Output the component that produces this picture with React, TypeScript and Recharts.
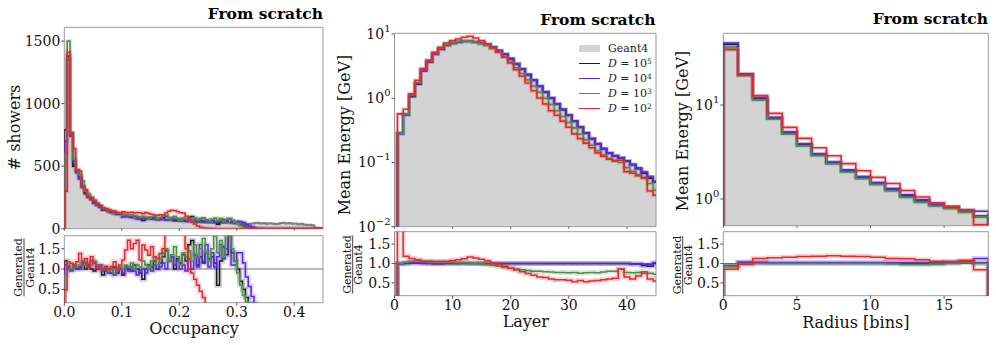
import React from "react";
import {
  ComposedChart,
  Area,
  Line,
  XAxis,
  YAxis,
  ReferenceArea,
  ReferenceLine,
  Legend,
} from "recharts";

const FONT = "DejaVu Serif";
const G4_FILL = "#d3d3d3";
const FRAME = "#9a9a9a";

// series order = draw order (black, blue, green, red on top)
const SERIES = [
  { key: "d5", exp: "5", color: "#1c1c1c" },
  { key: "d4", exp: "4", color: "#5a23ee" },
  { key: "d3", exp: "3", color: "#4e8f4c" },
  { key: "d2", exp: "2", color: "#e8262f" },
];

// ---------- Occupancy (bins of 0.005 from 0) ----------
const OCC_G4 = [
  700, 1370, 770, 520, 450, 400, 330, 290, 250, 230,
  210, 190, 178, 165, 158, 148, 140, 132, 125, 118,
  108, 104, 100, 96, 92, 90, 88, 85, 84, 82,
  80, 76, 74, 72, 72, 70, 68, 66, 66, 64,
  62, 60, 60, 58, 56, 55, 54, 52, 50, 50,
  48, 50, 47, 46, 48, 45, 46, 44, 45, 42,
  44, 42, 45, 40, 38, 42, 45, 48, 42, 46,
  40, 44, 42, 38, 40, 45, 48, 42, 46, 40,
  42, 36, 40, 34, 30, 32, 28, 8, 5, 4,
];
const OCC_D5 = [
  790, 1380, 760, 500, 470, 410, 340, 280, 255, 240,
  205, 192, 175, 150, 150, 148, 130, 135, 115, 118,
  95, 108, 100, 92, 100, 90, 80, 66, 84, 90,
  84, 90, 74, 82, 92, 100, 80, 86, 66, 80,
  72, 82, 72, 92, 98, 72, 60, 68, 58, 70,
  60, 65, 54, 35, 58, 70, 62, 80, 63, 50,
  44, 30, 22, 12, 6, 0, 0, 0, 0, 0,
  0, 0, 0, 0, 0, 0, 0, 0, 0, 0,
  0, 0, 0, 0, 0, 0, 0, 0, 0, 0,
];
const OCC_D4 = [
  700, 1350, 740, 540, 450, 400, 340, 310, 260, 240,
  215, 190, 180, 158, 155, 135, 138, 122, 120, 118,
  100, 104, 95, 100, 88, 78, 84, 85, 76, 82,
  76, 84, 74, 76, 82, 70, 80, 86, 72, 78,
  62, 66, 58, 72, 56, 74, 58, 82, 62, 58,
  52, 70, 52, 60, 77, 56, 69, 78, 50, 50,
  60, 58, 50, 32, 22, 14, 6, 2, 1, 0,
  0, 0, 0, 0, 0, 0, 0, 0, 0, 0,
  0, 0, 0, 0, 0, 0, 0, 0, 0, 0,
];
const OCC_D3 = [
  600, 1500, 770, 560, 470, 430, 380, 300, 280, 250,
  230, 200, 185, 165, 160, 145, 140, 120, 125, 124,
  108, 114, 105, 110, 92, 100, 92, 100, 92, 82,
  96, 98, 82, 90, 100, 105, 82, 90, 100, 82,
  68, 84, 78, 84, 68, 88, 70, 78, 88, 70,
  58, 75, 85, 64, 82, 60, 74, 80, 68, 52,
  40, 26, 14, 6, 2, 0, 0, 0, 0, 0,
  0, 0, 0, 0, 0, 0, 0, 0, 0, 0,
  0, 0, 0, 0, 0, 0, 0, 0, 0, 0,
];
const OCC_D2 = [
  300, 1410, 760, 640, 470, 460, 330, 310, 260, 250,
  225, 205, 185, 170, 160, 150, 142, 140, 130, 128,
  135, 130, 128, 132, 125, 130, 128, 120, 130, 122,
  115, 110, 108, 112, 110, 125, 140, 148, 145, 135,
  128, 125, 100, 75, 55, 38, 22, 12, 6, 3,
  2, 1, 1, 0, 0, 0, 0, 0, 0, 0,
  0, 0, 0, 0, 0, 0, 0, 0, 0, 0,
  0, 0, 0, 0, 0, 0, 0, 0, 0, 0,
  0, 0, 0, 0, 0, 0, 0, 0, 0, 0,
];
const OCC_R_D5 = [
  1.2, 1.05, 1.0, 1.1, 1.0, 1.05, 1.15, 1.0, 1.1, 1.0,
  0.95, 1.0, 1.05, 0.85, 0.95, 1.0, 0.9, 1.05, 0.9, 1.0,
  0.85, 1.05, 1.0, 0.95, 1.1, 1.0, 0.9, 0.75, 1.0, 1.1,
  1.05, 1.2, 1.0, 1.15, 1.3, 1.45, 1.2, 1.3, 1.0, 1.25,
  1.15, 1.35, 1.2, 1.6, 1.7, 1.35, 1.1, 1.3, 1.15, 1.4,
  1.25, 1.3, 1.15, 0.6, 1.2, 1.55, 1.35, 1.85, 1.4, 1.2,
  1.0, 0.7, 0.5, 0.3, 0.15, 0, 0, 0, 0, 0,
  0, 0, 0, 0, 0, 0, 0, 0, 0, 0,
  0, 0, 0, 0, 0, 0, 0, 0, 0, 0,
];
const OCC_R_D4 = [
  1.1, 1.0, 0.95, 1.05, 1.0, 1.0, 1.1, 1.15, 1.05, 1.2,
  1.15, 1.0, 1.1, 0.95, 1.0, 0.9, 1.0, 0.85, 0.95, 1.0,
  0.9, 1.0, 0.95, 1.05, 0.95, 0.85, 0.95, 1.0, 0.9, 1.0,
  0.95, 1.1, 1.0, 1.05, 1.15, 1.0, 1.2, 1.3, 1.1, 1.2,
  1.0, 1.1, 0.95, 1.25, 1.0, 1.35, 1.05, 1.6, 1.2, 1.6,
  1.05, 1.4, 1.05, 1.3, 1.6, 1.25, 1.5, 1.8, 1.1, 1.1,
  1.4, 1.4, 1.15, 0.8, 0.57, 0.32, 0.15, 0, 0, 0,
  0, 0, 0, 0, 0, 0, 0, 0, 0, 0,
  0, 0, 0, 0, 0, 0, 0, 0, 0, 0,
];
const OCC_R_D3 = [
  0.85, 1.1, 1.0, 1.1, 1.05, 1.1, 1.2, 1.1, 1.15, 1.1,
  1.2, 1.1, 1.05, 1.0, 1.05, 0.95, 1.0, 0.9, 1.0, 1.05,
  1.0, 1.1, 1.05, 1.15, 1.0, 1.1, 1.05, 1.2, 1.1, 1.0,
  1.2, 1.3, 1.1, 1.25, 1.4, 1.5, 1.2, 1.35, 1.55, 1.3,
  1.1, 1.4, 1.3, 1.45, 1.2, 1.6, 1.3, 1.5, 1.75, 1.4,
  1.2, 1.5, 1.8, 1.4, 1.7, 1.3, 1.9, 1.8, 1.5, 1.2,
  0.9, 0.6, 0.35, 0.2, 0, 0, 0, 0, 0, 0,
  0, 0, 0, 0, 0, 0, 0, 0, 0, 0,
  0, 0, 0, 0, 0, 0, 0, 0, 0, 0,
];
const OCC_R_D2 = [
  0.48, 1.18, 1.14, 1.1, 1.18, 1.38, 1.18, 1.26, 1.06, 1.3,
  1.14, 1.06, 1.02, 1.0, 1.07, 1.0, 1.06, 1.18, 1.02, 1.1,
  1.22, 1.47, 1.71, 1.5, 1.63, 1.71, 1.22, 1.59, 1.47, 1.34,
  1.55, 1.3, 1.26, 1.38, 1.5, 2.0, 2.0, 2.0, 2.0, 2.0,
  2.0, 2.0, 1.5, 1.0, 0.9, 0.75, 0.6, 0.45, 0.3, 0.1,
  0, 0, 0, 0, 0, 0, 0, 0, 0, 0,
  0, 0, 0, 0, 0, 0, 0, 0, 0, 0,
  0, 0, 0, 0, 0, 0, 0, 0, 0, 0,
  0, 0, 0, 0, 0, 0, 0, 0, 0, 0,
];

// ---------- Layer (unit bins starting at 0.5) ----------
const LAYER_G4 = [
  0.286, 0.556, 1.07, 1.67, 2.69, 3.7, 4.89, 5.85, 6.67, 7.2,
  7.5, 7.7, 7.7, 7.5, 7.17, 6.82, 6.2, 5.5, 4.83, 4.13,
  3.45, 2.86, 2.33, 1.9, 1.54, 1.25, 1.01, 0.815, 0.665, 0.544,
  0.44, 0.354, 0.288, 0.235, 0.195, 0.164, 0.141, 0.127, 0.118, 0.105,
  0.093, 0.081, 0.072, 0.061, 0.05,
];
const LAYER_D5 = [
  0.286, 0.556, 1.07, 1.67, 2.69, 3.7, 4.89, 5.85, 6.67, 7.2,
  7.5, 7.7, 7.7, 7.5, 7.17, 6.82, 6.2, 5.5, 4.83, 4.13,
  3.45, 2.86, 2.33, 1.9, 1.54, 1.25, 1.01, 0.815, 0.665, 0.544,
  0.44, 0.354, 0.288, 0.235, 0.195, 0.164, 0.141, 0.127, 0.118, 0.105,
  0.093, 0.081, 0.068, 0.057, 0.05,
];
const LAYER_D4 = [
  0.28, 0.56, 1.09, 1.7, 2.72, 3.7, 4.85, 5.8, 6.67, 7.2,
  7.5, 7.75, 7.7, 7.5, 7.17, 6.82, 6.2, 5.5, 4.83, 4.13,
  3.45, 2.86, 2.33, 1.9, 1.54, 1.25, 1.01, 0.815, 0.665, 0.544,
  0.44, 0.354, 0.288, 0.235, 0.195, 0.164, 0.141, 0.127, 0.118, 0.105,
  0.092, 0.08, 0.07, 0.059, 0.051,
];
const LAYER_D3 = [
  0.286, 0.57, 1.12, 1.76, 2.82, 3.85, 5.05, 6.0, 6.85, 7.35,
  7.6, 7.8, 7.75, 7.5, 7.1, 6.65, 5.95, 5.2, 4.4, 3.65,
  2.98, 2.42, 1.93, 1.55, 1.24, 1.0, 0.8, 0.64, 0.52, 0.42,
  0.345, 0.275, 0.225, 0.185, 0.152, 0.13, 0.115, 0.104, 0.1, 0.083,
  0.073, 0.064, 0.057, 0.047, 0.037,
];
const LAYER_D2 = [
  0.57, 0.675, 1.17, 1.9, 2.89, 3.9, 5.2, 6.2, 7.24, 7.87,
  8.36, 8.9, 9.2, 8.67, 7.87, 7.0, 6.06, 5.25, 4.39, 3.54,
  2.79, 2.2, 1.73, 1.31, 1.01, 0.815, 0.64, 0.544, 0.44, 0.354,
  0.279, 0.235, 0.2, 0.169, 0.141, 0.125, 0.112, 0.108, 0.108, 0.072,
  0.068, 0.062, 0.058, 0.036, 0.031,
];
const LAYER_R_D5 = [
  1.0, 1.0, 1.01, 1.01, 1.0, 1.0, 1.0, 1.0, 1.0, 1.0,
  1.0, 1.0, 1.0, 1.0, 1.0, 1.0, 1.0, 1.0, 1.0, 1.0,
  1.0, 1.0, 1.0, 1.0, 1.0, 1.0, 1.0, 1.0, 1.0, 1.0,
  1.0, 1.0, 1.0, 1.0, 1.0, 1.0, 1.0, 1.0, 1.0, 1.0,
  0.99, 0.99, 0.95, 0.93, 1.0,
];
const LAYER_R_D4 = [
  0.98, 1.01, 1.02, 1.02, 1.01, 1.0, 0.99, 0.99, 1.0, 1.0,
  1.0, 1.01, 1.0, 1.0, 1.0, 1.0, 1.0, 1.0, 1.0, 1.0,
  1.0, 1.0, 1.0, 1.0, 1.0, 1.0, 1.0, 1.0, 1.0, 1.0,
  1.0, 1.0, 1.0, 1.0, 1.0, 1.0, 1.0, 1.0, 1.0, 1.0,
  0.99, 0.99, 0.97, 0.97, 1.02,
];
const LAYER_R_D3 = [
  1.0, 1.03, 1.06, 1.07, 1.06, 1.06, 1.05, 1.05, 1.04, 1.03,
  1.02, 1.02, 1.01, 1.0, 0.99, 0.97, 0.95, 0.93, 0.9, 0.88,
  0.86, 0.84, 0.82, 0.8, 0.8, 0.79, 0.78, 0.77, 0.77, 0.76,
  0.77, 0.75, 0.76, 0.77, 0.76, 0.78, 0.8, 0.8, 0.86, 0.77,
  0.76, 0.77, 0.79, 0.75, 0.72,
];
const LAYER_R_D2 = [
  2.0, 1.19, 1.13, 1.1, 1.06, 1.06, 1.05, 1.05, 1.06, 1.08,
  1.1, 1.12, 1.17, 1.14, 1.11, 1.07, 1.0, 0.97, 0.93, 0.88,
  0.83, 0.79, 0.74, 0.7, 0.65, 0.64, 0.6, 0.58, 0.58, 0.57,
  0.53, 0.56, 0.53, 0.55, 0.56, 0.58, 0.6, 0.62, 0.85, 0.65,
  0.6, 0.68, 0.75, 0.6, 0.55,
];

// ---------- Radius (unit bins from 0) ----------
const RAD_G4 = [42, 20.8, 11.4, 7.1, 4.91, 3.69, 2.91, 2.38, 1.95, 1.66, 1.44, 1.24, 1.07, 0.94, 0.86, 0.8, 0.73, 0.645];
const RAD_D5 = [44.5, 21.3, 11.8, 7.3, 5.1, 3.82, 3.0, 2.45, 2.0, 1.7, 1.47, 1.27, 1.09, 0.96, 0.87, 0.82, 0.76, 0.66];
const RAD_D4 = [45.7, 21.5, 12.0, 7.39, 5.16, 3.87, 3.03, 2.48, 2.04, 1.73, 1.5, 1.29, 1.11, 0.98, 0.88, 0.82, 0.75, 0.74];
const RAD_D3 = [40.5, 20.6, 11.3, 7.05, 4.9, 3.68, 2.9, 2.37, 1.94, 1.65, 1.43, 1.22, 1.04, 0.92, 0.84, 0.79, 0.72, 0.645];
const RAD_D2 = [38.7, 20.8, 12.6, 8.15, 5.78, 4.42, 3.51, 2.89, 2.38, 2.0, 1.7, 1.46, 1.23, 1.05, 0.91, 0.834, 0.77, 0.533];
const RAD_R_D5 = [0.93, 1.02, 1.01, 1.01, 1.01, 1.01, 1.01, 1.01, 1.01, 1.01, 1.01, 1.01, 1.01, 1.01, 1.01, 1.03, 1.05, 1.01];
const RAD_R_D4 = [0.95, 1.04, 1.03, 1.02, 1.02, 1.02, 1.02, 1.02, 1.02, 1.02, 1.02, 1.02, 1.02, 1.02, 1.0, 1.02, 1.03, 1.13];
const RAD_R_D3 = [0.92, 1.0, 1.0, 1.0, 1.0, 1.0, 1.0, 1.0, 1.0, 1.0, 1.0, 0.99, 0.97, 0.97, 0.98, 1.0, 1.03, 1.0];
const RAD_R_D2 = [0.85, 0.98, 1.13, 1.15, 1.16, 1.18, 1.19, 1.2, 1.19, 1.18, 1.16, 1.13, 1.12, 1.1, 1.06, 1.05, 1.08, 0.84];

const RATIO_DOMAIN: [number, number] = [0.17, 1.82];
const RATIO_TICKS = [0.5, 1.0, 1.5];
const EXTRA = 14; // spare room under the main plot so its lowest tick label is not clipped

// histogram outline: start and end at the floor like matplotlib's step histogram
function stepRows(x0: number, w: number, cols: Record<string, number[]>, floor: number) {
  const keys = Object.keys(cols);
  const n = cols[keys[0]].length;
  const make = (x: number, pick: (k: string) => number) => {
    const r: Record<string, number> = { x };
    keys.forEach((k) => (r[k] = pick(k)));
    return r;
  };
  const rows = [make(x0, () => floor)];
  for (let i = 0; i < n; i++) rows.push(make(x0 + i * w, (k) => cols[k][i]));
  rows.push(make(x0 + n * w, (k) => cols[k][n - 1]));
  rows.push(make(x0 + n * w, () => floor));
  return rows;
}

function LogTick(props: any) {
  const { x, y, payload } = props;
  const e = Math.round(Math.log10(payload.value));
  return (
    <text x={x} y={y} dy="0.355em" textAnchor="end" fontSize={14} fill="#111" style={{ fontFamily: FONT }}>
      10
      <tspan dy={-7} fontSize={10}>{e < 0 ? `\u2212${-e}` : `${e}`}</tspan>
    </text>
  );
}

function LegendBox() {
  return (
    <div style={{ fontFamily: FONT, fontSize: 11, lineHeight: "15px", color: "#222", whiteSpace: "nowrap" }}>
      <div style={{ display: "flex", alignItems: "center" }}>
        <span style={{ display: "inline-block", width: 21, height: 7, background: G4_FILL, marginRight: 8 }} />
        Geant4
      </div>
      {SERIES.map((s) => (
        <div key={s.key} style={{ display: "flex", alignItems: "center" }}>
          <span style={{ display: "inline-block", width: 21, borderTop: `1.5px solid ${s.color}`, marginRight: 8 }} />
          <i>D</i>&nbsp;=&nbsp;10<sup style={{ fontSize: 7.5, lineHeight: 0, position: "relative", top: -1 }}>{s.exp}</sup>
        </div>
      ))}
    </div>
  );
}

type Panel = {
  left: number;
  width: number;
  split: number;
  plotLeft: number;
  plotRight: number;
  mainTop: number;
  mainBottom: number;
  ratioTop: number;
  ratioBottom: number;
  x0: number;
  binW: number;
  xDomain: [number, number];
  xTicks: number[];
  xFmt: (v: number) => string;
  yDomain: [number, number];
  yTicks: number[];
  log: boolean;
  g4: number[];
  gen: Record<string, number[]>;
  ratio: Record<string, number[]>;
  legend?: boolean;
};

function seriesLines(prefix: string, halo: number, width: number) {
  const out: React.ReactNode[] = [];
  SERIES.forEach((s) => {
    out.push(
      <Line key={`${prefix}h${s.key}`} type="stepAfter" dataKey={s.key} stroke={s.color} strokeOpacity={0.2}
        strokeWidth={halo} dot={false} activeDot={false} isAnimationActive={false} />
    );
    out.push(
      <Line key={`${prefix}${s.key}`} type="stepAfter" dataKey={s.key} stroke={s.color} strokeWidth={width}
        dot={false} activeDot={false} isAnimationActive={false} />
    );
  });
  return out;
}

function HistPanel({ p }: { p: Panel }) {
  const floor = p.yDomain[0];
  const mainData = stepRows(p.x0, p.binW, { g4: p.g4, ...p.gen }, p.log ? floor : 0);
  const ratioData = stepRows(p.x0, p.binW, p.ratio, 0);
  const yw = p.plotLeft - p.left;
  const right = p.left + p.width - p.plotRight;
  const ratioH = 345 - p.split;
  const tickStyle = { fill: "#111", fontSize: 14, fontFamily: FONT };
  return (
    <>
      <div style={{ position: "absolute", left: p.left, top: p.split }}>
        <ComposedChart width={p.width} height={ratioH} data={ratioData}
          margin={{ top: p.ratioTop - p.split, right, bottom: 0, left: 0 }}>
          <XAxis type="number" dataKey="x" domain={p.xDomain} ticks={p.xTicks} interval={0}
            allowDataOverflow tickFormatter={p.xFmt} tickSize={3} tickMargin={1} axisLine={false}
            tickLine={{ stroke: "#555" }} tick={tickStyle} height={345 - p.ratioBottom} />
          <YAxis type="number" domain={RATIO_DOMAIN} ticks={RATIO_TICKS} interval={0} allowDataOverflow
            width={yw} tickSize={3} tickMargin={1} axisLine={false} tickLine={{ stroke: "#555" }}
            tick={tickStyle} tickFormatter={(v: number) => v.toFixed(1)} />
          <ReferenceLine y={1} stroke="#777" strokeWidth={1} />
          {seriesLines("r", 5, 1.5)}
          <ReferenceArea x1={p.xDomain[0]} x2={p.xDomain[1]} y1={RATIO_DOMAIN[0]} y2={RATIO_DOMAIN[1]}
            fill="none" stroke={FRAME} strokeWidth={1} ifOverflow="visible" />
        </ComposedChart>
      </div>
      <div style={{ position: "absolute", left: p.left, top: 0 }}>
        <ComposedChart width={p.width} height={p.split + EXTRA} data={mainData}
          margin={{ top: p.mainTop, right, bottom: EXTRA, left: 0 }}>
          <XAxis type="number" dataKey="x" domain={p.xDomain} ticks={p.xTicks} interval={0}
            allowDataOverflow tickFormatter={() => ""} tickSize={2} axisLine={false}
            tickLine={{ stroke: "#555" }} height={p.split - p.mainBottom} />
          {p.log ? (
            <YAxis type="number" scale="log" domain={p.yDomain} ticks={p.yTicks} interval={0}
              allowDataOverflow width={yw} tickSize={3} tickMargin={1} axisLine={false}
              tickLine={{ stroke: "#555" }} tick={(t: any) => <LogTick {...t} />} />
          ) : (
            <YAxis type="number" domain={p.yDomain} ticks={p.yTicks} interval={0}
              allowDataOverflow width={yw} tickSize={3} tickMargin={1} axisLine={false}
              tickLine={{ stroke: "#555" }} tick={tickStyle} />
          )}
          <Area type="stepAfter" dataKey="g4" baseValue={p.log ? floor : 0} fill={G4_FILL} fillOpacity={1}
            stroke="#808080" strokeWidth={2} dot={false} activeDot={false} isAnimationActive={false} />
          {seriesLines("m", 4, 1.6)}
          <ReferenceArea x1={p.xDomain[0]} x2={p.xDomain[1]} y1={p.yDomain[0]} y2={p.yDomain[1]}
            fill="none" stroke={FRAME} strokeWidth={1} ifOverflow="visible" />
          {p.legend && (
            <Legend layout="vertical" align="center" verticalAlign="middle" content={() => <LegendBox />}
              wrapperStyle={{ left: 249, top: 40.5, width: 80, height: 76 }} />
          )}
        </ComposedChart>
      </div>
    </>
  );
}

const PANELS: Panel[] = [
  {
    left: 0, width: 330, split: 231, plotLeft: 64.3, plotRight: 323,
    mainTop: 27.3, mainBottom: 228.7, ratioTop: 235.7, ratioBottom: 302.7,
    x0: 0, binW: 0.005, xDomain: [0, 0.45], xTicks: [0, 0.1, 0.2, 0.3, 0.4],
    xFmt: (v) => v.toFixed(1), yDomain: [0, 1610], yTicks: [0, 500, 1000, 1500], log: false,
    g4: OCC_G4, gen: { d5: OCC_D5, d4: OCC_D4, d3: OCC_D3, d2: OCC_D2 },
    ratio: { d5: OCC_R_D5, d4: OCC_R_D4, d3: OCC_R_D3, d2: OCC_R_D2 },
  },
  {
    left: 330, width: 330, split: 229, plotLeft: 394.5, plotRight: 656,
    mainTop: 33.3, mainBottom: 226.7, ratioTop: 231.7, ratioBottom: 295.7,
    x0: 0.5, binW: 1, xDomain: [0, 45], xTicks: [0, 10, 20, 30, 40],
    xFmt: (v) => `${v}`, yDomain: [0.01, 10.25], yTicks: [0.01, 0.1, 1, 10], log: true,
    g4: LAYER_G4, gen: { d5: LAYER_D5, d4: LAYER_D4, d3: LAYER_D3, d2: LAYER_D2 },
    ratio: { d5: LAYER_R_D5, d4: LAYER_R_D4, d3: LAYER_R_D3, d2: LAYER_R_D2 },
    legend: true,
  },
  {
    left: 660, width: 336, split: 229, plotLeft: 723.3, plotRight: 988.3,
    mainTop: 33.3, mainBottom: 225.7, ratioTop: 231.7, ratioBottom: 295.7,
    x0: 0, binW: 1, xDomain: [0, 18], xTicks: [0, 5, 10, 15],
    xFmt: (v) => `${v}`, yDomain: [0.52, 58], yTicks: [1, 10], log: true,
    g4: RAD_G4, gen: { d5: RAD_D5, d4: RAD_D4, d3: RAD_D3, d2: RAD_D2 },
    ratio: { d5: RAD_R_D5, d4: RAD_R_D4, d3: RAD_R_D3, d2: RAD_R_D2 },
  },
];

function RatioLabel({ cx, cy }: { cx: number; cy: number }) {
  return (
    <g transform={`translate(${cx},${cy}) rotate(-90)`} fill="#111" style={{ fontFamily: FONT, fontSize: 11 }}>
      <text x={0} y={-1.8} textAnchor="middle">Generated</text>
      <line x1={-29} x2={29} y1={0} y2={0} stroke="#111" strokeWidth={0.8} />
      <text x={0} y={9.6} textAnchor="middle">Geant4</text>
    </g>
  );
}

function Labels() {
  return (
    <svg width={996} height={345} style={{ position: "absolute", left: 0, top: 0, pointerEvents: "none", fontFamily: FONT }}>
      <g textAnchor="end" fill="#000" style={{ fontFamily: FONT, fontSize: 15.5, fontWeight: "bold" }}>
        <text x={323} y={19}>From scratch</text>
        <text x={655.5} y={25}>From scratch</text>
        <text x={988} y={24}>From scratch</text>
      </g>
      <g fill="#111" textAnchor="middle" style={{ fontFamily: FONT, fontSize: 16 }}>
        <text transform="translate(20,127.5) rotate(-90)"># showers</text>
        <text transform="translate(349.5,135) rotate(-90)">Mean Energy [GeV]</text>
        <text transform="translate(688,131) rotate(-90)">Mean Energy [GeV]</text>
        <text x={194} y={333.5}>Occupancy</text>
        <text x={525.8} y={327}>Layer</text>
        <text x={855.8} y={328}>Radius [bins]</text>
      </g>
      <RatioLabel cx={24} cy={267.5} />
      <RatioLabel cx={352.7} cy={264.5} />
      <RatioLabel cx={682.7} cy={265} />
    </svg>
  );
}

export default function App() {
  return (
    <div style={{ position: "absolute", left: 0, top: 0, width: 996, height: 345, background: "#fff", fontFamily: FONT }}>
      {PANELS.map((p, i) => (
        <HistPanel key={i} p={p} />
      ))}
      <Labels />
    </div>
  );
}
